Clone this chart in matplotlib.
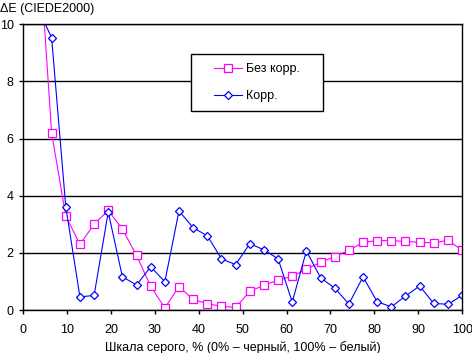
import numpy as np
import matplotlib
matplotlib.use("Agg")
import matplotlib.pyplot as plt
from matplotlib.patches import Rectangle

plt.rcParams['font.family'] = ['Liberation Sans', 'DejaVu Sans']

# grey level steps, 32 points from 0 to 100 %
steps = list(range(1, 32))
x_pct = [s * 100 / 31 for s in steps]

bez_korr = [13.6, 6.2, 3.29, 2.30, 3.00, 3.49, 2.83, 1.91, 0.83, 0.07,
            0.82, 0.37, 0.22, 0.13, 0.09, 0.65, 0.87, 1.04, 1.18, 1.43,
            1.67, 1.87, 2.09, 2.37, 2.43, 2.43, 2.40, 2.37, 2.35, 2.44, 2.09]
korr = [10.6, 9.53, 3.61, 0.46, 0.51, 3.43, 1.16, 0.88, 1.51, 0.99,
        3.47, 2.88, 2.60, 1.79, 1.59, 2.32, 2.11, 1.79, 0.28, 2.07,
        1.13, 0.77, 0.21, 1.16, 0.29, 0.11, 0.49, 0.84, 0.23, 0.20, 0.51]

fig = plt.figure(figsize=(4.72, 3.53), dpi=100)
ax = fig.add_axes([0.0494, 0.1218, 0.9296, 0.8092])

ax.plot(x_pct, bez_korr, color='#ff00ff', lw=0.8, marker='s', ms=5.5,
        mfc='white', mec='#ff00ff', mew=0.9, label='Без корр.')
ax.plot(x_pct, korr, color='#0000ff', lw=0.8, marker='D', ms=4.5,
        mfc='white', mec='#0000ff', mew=0.9, label='Корр.')

ax.set_xlim(0, 100)
ax.set_ylim(0, 10)
ax.set_xticks(range(0, 101, 10))
ax.set_yticks(range(0, 11, 2))
ax.grid(axis='y', color='black', lw=1)
ax.set_axisbelow(True)
for sp in ax.spines.values():
    sp.set_linewidth(1)
ax.tick_params(labelsize=9, length=3, width=1, color='black')
ax.tick_params(axis='x', pad=7)
ax.tick_params(axis='y', pad=4)

ax.set_xlabel('Шкала серого, % (0% – черный, 100% – белый)', fontsize=9, labelpad=4)
fig.text(0.0, 0.975, 'ΔE (CIEDE2000)', fontsize=9, va='center', ha='left')

# legend box drawn by hand, legend itself without frame
ax.add_patch(Rectangle((0.382, 0.697), 0.302, 0.198, transform=ax.transAxes,
                       facecolor='white', edgecolor='black', lw=1, zorder=5))
leg = ax.legend(loc='center', bbox_to_anchor=(0.533, 0.796), fontsize=9,
                frameon=False, handlelength=2.2, labelspacing=1.2,
                handletextpad=0.35)
leg.set_zorder(6)

fig.savefig('out.png', dpi=100)
